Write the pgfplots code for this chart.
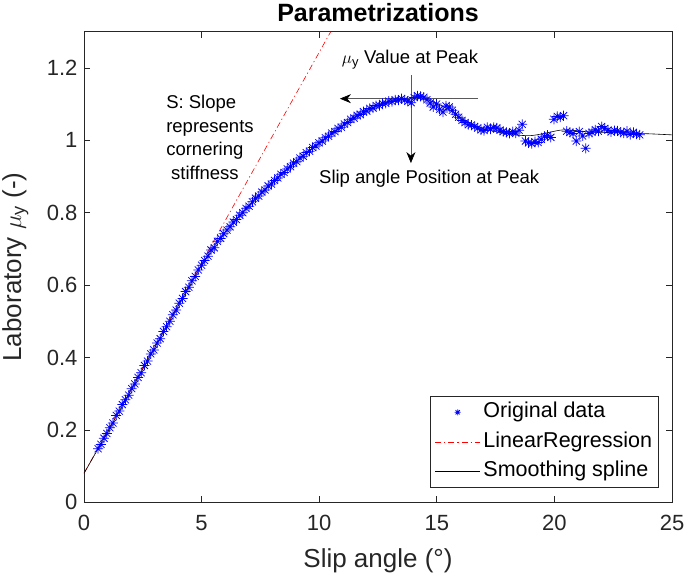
\documentclass[border=0pt]{standalone}
\usepackage{fontspec}
\setmainfont{Liberation Sans}
\usepackage{pgfplots}
\usepackage{pgfplotstable}
\pgfplotsset{compat=1.18}
\usetikzlibrary{arrows.meta}

\pgfdeclareplotmark{mstar}{%
  \pgfpathmoveto{\pgfqpoint{-\pgfplotmarksize}{0pt}}\pgfpathlineto{\pgfqpoint{\pgfplotmarksize}{0pt}}%
  \pgfpathmoveto{\pgfqpoint{0pt}{-\pgfplotmarksize}}\pgfpathlineto{\pgfqpoint{0pt}{\pgfplotmarksize}}%
  \pgfpathmoveto{\pgfqpoint{-0.7071\pgfplotmarksize}{-0.7071\pgfplotmarksize}}\pgfpathlineto{\pgfqpoint{0.7071\pgfplotmarksize}{0.7071\pgfplotmarksize}}%
  \pgfpathmoveto{\pgfqpoint{-0.7071\pgfplotmarksize}{0.7071\pgfplotmarksize}}\pgfpathlineto{\pgfqpoint{0.7071\pgfplotmarksize}{-0.7071\pgfplotmarksize}}%
  \pgfusepathqstroke}

\pgfplotsset{
  mylinelegend/.style={legend image code/.code={\draw[##1] (0bp,0bp) -- (45bp,0bp);}},
  mymarklegend/.style={legend image code/.code={\draw[mark repeat=2,mark phase=2,mark size=3bp,##1] plot coordinates {(0bp,0bp) (22.5bp,0bp) (45bp,0bp)};}},
}

\pgfplotstableread{
x y
0.60 0.148
0.72 0.160
0.85 0.177
0.97 0.190
1.10 0.206
1.23 0.219
1.37 0.240
1.50 0.252
1.63 0.270
1.76 0.283
1.90 0.296
2.03 0.314
2.16 0.327
2.30 0.345
2.43 0.358
2.57 0.378
2.70 0.390
2.84 0.410
2.97 0.421
3.11 0.440
3.24 0.452
3.38 0.472
3.51 0.485
3.65 0.500
3.78 0.518
3.92 0.531
4.05 0.550
4.19 0.563
4.32 0.582
4.46 0.594
4.59 0.612
4.73 0.624
4.86 0.642
5.00 0.655
5.13 0.668
5.27 0.680
5.40 0.697
5.54 0.703
5.67 0.721
5.81 0.729
5.94 0.742
6.08 0.752
6.21 0.761
6.35 0.774
6.48 0.781
6.62 0.793
6.75 0.800
6.89 0.812
7.02 0.818
7.16 0.830
7.29 0.840
7.43 0.846
7.56 0.857
7.70 0.863
7.83 0.874
7.97 0.879
8.10 0.889
8.24 0.896
8.37 0.906
8.51 0.911
8.64 0.921
8.78 0.927
8.91 0.937
9.05 0.941
9.18 0.951
9.32 0.956
9.45 0.966
9.59 0.970
9.72 0.980
9.86 0.984
9.99 0.993
10.13 0.998
10.26 1.007
10.40 1.011
10.53 1.020
10.67 1.024
10.80 1.033
10.94 1.036
11.07 1.045
11.21 1.049
11.34 1.058
11.48 1.061
11.61 1.069
11.75 1.071
11.88 1.079
12.02 1.081
12.15 1.088
12.29 1.089
12.42 1.096
12.56 1.096
12.69 1.102
12.83 1.102
12.96 1.108
13.10 1.107
13.23 1.112
13.37 1.111
13.50 1.115
13.64 1.112
13.77 1.108
13.91 1.104
14.04 1.118
14.18 1.123
14.31 1.121
14.45 1.119
14.58 1.112
14.72 1.103
14.85 1.092
14.99 1.100
15.12 1.086
15.26 1.078
15.39 1.095
15.53 1.092
15.66 1.083
15.80 1.072
15.93 1.064
16.07 1.055
16.20 1.049
16.34 1.043
16.47 1.042
16.61 1.038
16.74 1.034
16.88 1.029
17.01 1.027
17.15 1.036
17.28 1.031
17.42 1.036
17.55 1.034
17.69 1.028
17.82 1.024
17.96 1.022
18.09 1.019
18.23 1.024
18.36 1.020
18.50 1.028
18.63 1.044
18.77 0.998
18.90 0.993
19.04 0.991
19.17 0.996
19.31 0.994
19.44 1.003
19.58 1.011
19.71 1.014
19.85 1.008
19.98 1.058
20.12 1.066
20.25 1.064
20.39 1.068
20.52 1.025
20.66 1.022
20.79 1.019
20.93 0.998
21.06 1.024
21.20 1.012
21.33 0.978
21.47 1.019
21.60 1.022
21.74 1.029
21.87 1.025
22.01 1.038
22.14 1.033
22.28 1.028
22.41 1.023
22.55 1.027
22.68 1.026
22.82 1.022
22.95 1.020
23.09 1.025
23.22 1.016
23.36 1.022
23.49 1.017
23.63 1.015
}\rawdata

\pgfplotstableread{
x y
0 0.080
1 0.194
2 0.310
3 0.426
4 0.542
5 0.655
5.5 0.703
6 0.746
6.5 0.782
7 0.818
7.5 0.852
8 0.884
8.5 0.913
9 0.941
9.5 0.967
10 0.992
10.5 1.016
11 1.040
11.5 1.062
12 1.081
12.5 1.096
13 1.106
13.5 1.112
14 1.116
14.5 1.114
15 1.102
15.5 1.085
16 1.063
16.5 1.045
17 1.032
17.5 1.024
18 1.018
18.5 1.014
19 1.013
19.5 1.018
20 1.025
20.4 1.029
21 1.026
21.5 1.023
22 1.022
23 1.020
24 1.018
25 1.015
}\splinedata

\definecolor{axgray}{gray}{0.15}

\begin{document}
\begin{tikzpicture}
\begin{axis}[
  scale only axis,
  width=588bp, height=470.6bp,
  xmin=0, xmax=25, ymin=0, ymax=1.3,
  xtick={0,5,10,15,20,25},
  ytick={0,0.2,0.4,0.6,0.8,1,1.2},
  yticklabels={0,0.2,0.4,0.6,0.8,1,1.2},
  tick align=inside, tick pos=both,
  major tick length=6bp,
  axis line style={draw=axgray, line width=0.7bp},
  every tick/.style={draw=axgray, line width=0.7bp},
  /pgf/number format/assume math mode=true,
  tick label style={font=\fontsize{22bp}{26bp}\selectfont, text=axgray},
  xticklabel style={yshift=-9.5bp},
  yticklabel style={xshift=-3bp},
  xlabel={Slip angle (°)},
  ylabel={Laboratory $\mu$\textsubscript{y} (-)},
  label style={font=\fontsize{26bp}{30bp}\selectfont, text=axgray},
  xlabel style={at={(axis description cs:0.5,-0.1396)}, anchor=base},
  ylabel style={at={(axis description cs:-0.1071,0.5)}, anchor=base, rotate=0},
  title={Parametrizations},
  title style={font=\fontsize{25bp}{30bp}\selectfont\bfseries, at={(axis description cs:0.5,1.0227)}, anchor=base, yshift=-6pt},
  legend style={at={(axis description cs:1,0)}, anchor=south east, xshift=-13.7bp, yshift=15bp,
    font=\fontsize{21.5bp}{25bp}\selectfont, draw=axgray, line width=0.6bp,
    inner xsep=5bp, inner ysep=4.7bp, row sep=7.5bp, column sep=2bp,
    nodes={inner sep=1bp, text height=15.5bp, text depth=4.5bp},
    cells={anchor=west}},
  mylinelegend,
  clip=true,
]
\addplot[only marks, mark=mstar, mark size=5bp, draw=blue, line width=0.75bp, mymarklegend]
  table[x=x,y=y] {\rawdata};
\addlegendentry{Original data}
\addplot[red, line width=0.6bp, dash pattern=on 6bp off 3bp on 1.2bp off 3bp]
  coordinates {(0,0.08) (10.49,1.3)};
\addlegendentry{LinearRegression}
\addplot[black, line width=0.6bp, smooth, tension=0.5]
  table[x=x,y=y] {\splinedata};
\addlegendentry{Smoothing spline}

% annotations
\draw[black!65, line width=0.7bp, -{Stealth[length=11bp,width=9bp,black]}] (axis cs:16.76,1.115) -- (axis cs:10.88,1.115);
\draw[black!65, line width=0.7bp, -{Stealth[length=11bp,width=9bp,black]}] (axis cs:13.9,1.18) -- (axis cs:13.9,0.937);
\node[anchor=base west, inner sep=0pt, font=\fontsize{18.5bp}{22bp}\selectfont] at (axis cs:10.96,1.2115) {$\mu$\textsubscript{y} Value at Peak};
\node[anchor=base west, inner sep=0pt, font=\fontsize{18.5bp}{22bp}\selectfont] at (axis cs:9.99,0.88) {Slip angle Position at Peak};
\node[anchor=base west, inner sep=0pt, font=\fontsize{18.5bp}{22bp}\selectfont] at (axis cs:3.49,1.087) {S: Slope};
\node[anchor=base west, inner sep=0pt, font=\fontsize{18.5bp}{22bp}\selectfont] at (axis cs:3.49,1.021) {represents};
\node[anchor=base west, inner sep=0pt, font=\fontsize{18.5bp}{22bp}\selectfont] at (axis cs:3.49,0.957) {cornering};
\node[anchor=base west, inner sep=0pt, font=\fontsize{18.5bp}{22bp}\selectfont] at (axis cs:3.70,0.891) {stiffness};
\end{axis}
\pgfresetboundingbox
\path (-84bp,-71.7bp) rectangle (601bp,502.3bp);
\end{tikzpicture}
\end{document}
